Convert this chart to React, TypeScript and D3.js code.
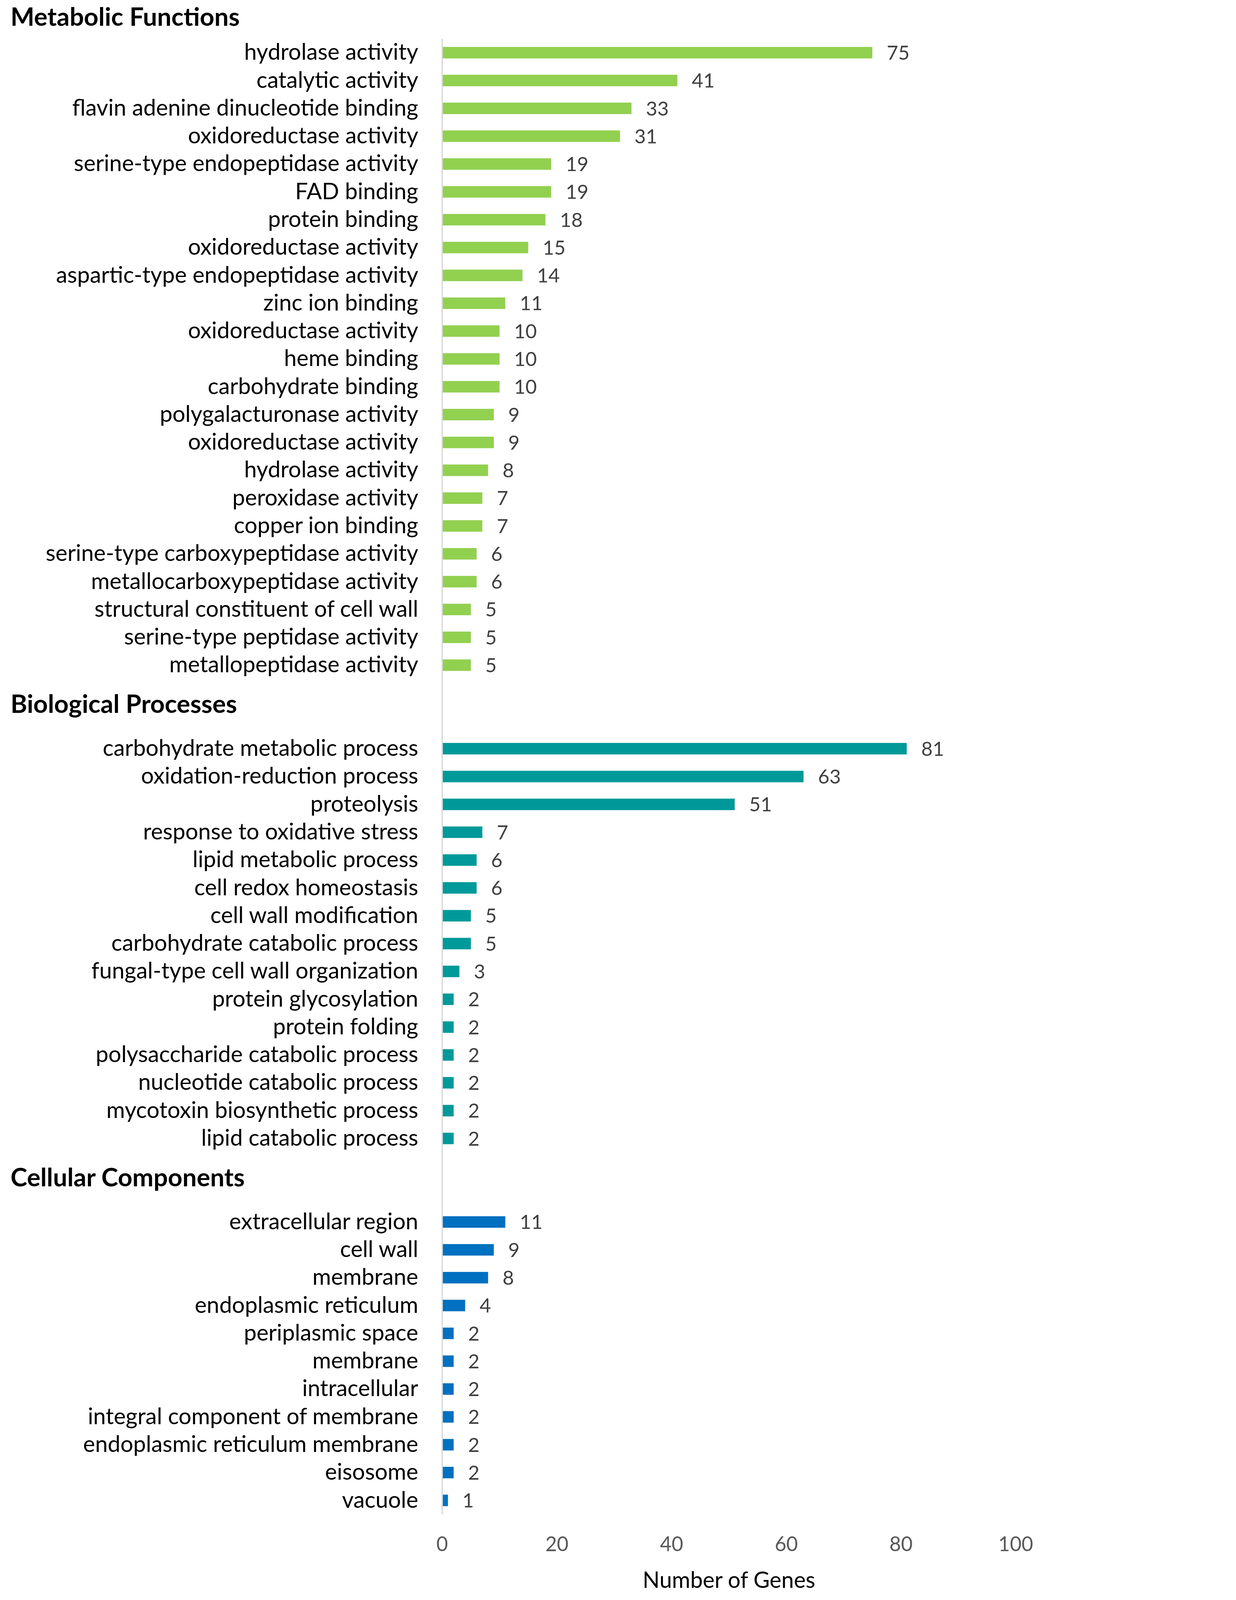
import * as d3 from 'd3';

const WIDTH = 3164;
const HEIGHT = 4874;

// x position of the zero line and of 100 on the gene-count axis
const X0 = 1347;
const X100 = 3094;
// vertical band range (covers all rows plus the two spacer rows between sections)
const BAND_TOP = 118;
const BAND_BOTTOM = 4613;
const BAR_PADDING = 0.587;

const FONT = 'Lato, "Open Sans", sans-serif';

const sectionTitles = ['Metabolic Functions', 'Biological Processes', 'Cellular Components'];
const sectionColors = ['#92D050', '#00999A', '#0070C0'];

const metabolicTerms = [
    'hydrolase activity', 'catalytic activity', 'flavin adenine dinucleotide binding',
    'oxidoreductase activity', 'serine-type endopeptidase activity', 'FAD binding',
    'protein binding', 'oxidoreductase activity', 'aspartic-type endopeptidase activity',
    'zinc ion binding', 'oxidoreductase activity', 'heme binding', 'carbohydrate binding',
    'polygalacturonase activity', 'oxidoreductase activity', 'hydrolase activity',
    'peroxidase activity', 'copper ion binding', 'serine-type carboxypeptidase activity',
    'metallocarboxypeptidase activity', 'structural constituent of cell wall',
    'serine-type peptidase activity', 'metallopeptidase activity',
];
const metabolicCounts = [75, 41, 33, 31, 19, 19, 18, 15, 14, 11, 10, 10, 10, 9, 9, 8, 7, 7, 6, 6, 5, 5, 5];

const biologicalTerms = [
    'carbohydrate metabolic process', 'oxidation-reduction process', 'proteolysis',
    'response to oxidative stress', 'lipid metabolic process', 'cell redox homeostasis',
    'cell wall modification', 'carbohydrate catabolic process', 'fungal-type cell wall organization',
    'protein glycosylation', 'protein folding', 'polysaccharide catabolic process',
    'nucleotide catabolic process', 'mycotoxin biosynthetic process', 'lipid catabolic process',
];
const biologicalCounts = [81, 63, 51, 7, 6, 6, 5, 5, 3, 2, 2, 2, 2, 2, 2];

const cellularTerms = [
    'extracellular region', 'cell wall', 'membrane', 'endoplasmic reticulum',
    'periplasmic space', 'membrane', 'intracellular', 'integral component of membrane',
    'endoplasmic reticulum membrane', 'eisosome', 'vacuole',
];
const cellularCounts = [11, 9, 8, 4, 2, 2, 2, 2, 2, 2, 1];

const xTicks = [0, 20, 40, 60, 80, 100];
const xAxisTitle = 'Number of Genes';

const sections = [
    { title: sectionTitles[0], terms: metabolicTerms, counts: metabolicCounts, color: sectionColors[0] },
    { title: sectionTitles[1], terms: biologicalTerms, counts: biologicalCounts, color: sectionColors[1] },
    { title: sectionTitles[2], terms: cellularTerms, counts: cellularCounts, color: sectionColors[2] },
];

export default function App() {
    // one band per row, with two empty bands between sections
    const keys: string[] = [];
    sections.forEach((s, si) => {
        if (si > 0) keys.push(`gap-${si}-a`, `gap-${si}-b`);
        s.terms.forEach((_, i) => keys.push(`${si}-${i}`));
    });

    const yScale = d3
        .scaleBand()
        .domain(keys)
        .range([BAND_TOP, BAND_BOTTOM])
        .paddingInner(BAR_PADDING)
        .paddingOuter(BAR_PADDING / 2);

    const xScale = d3.scaleLinear().domain([0, 100]).range([X0, X100]);

    const bw = yScale.bandwidth();

    return (
        // viewBox keeps the drawing fitted to the window whatever its css size is
        <svg
            viewBox={`0 0 ${WIDTH} ${HEIGHT}`}
            preserveAspectRatio="xMinYMin meet"
            style={{ position: 'fixed', left: 0, top: 0, width: '100vw', height: '100vh', background: '#fff' }}
            fontFamily={FONT}
        >
            <rect x={0} y={0} width={WIDTH} height={HEIGHT} fill="#fff" />

            {sections.map((s, si) => {
                const firstY = yScale(`${si}-0`)! + bw / 2;
                const titleY = si === 0 ? 78 : firstY - 109;
                return (
                    <g key={si}>
                        <text x={32} y={titleY} fontSize={77} fontWeight={700} fill="#000">
                            {s.title}
                        </text>
                        {s.terms.map((term, i) => {
                            const y = yScale(`${si}-${i}`)!;
                            const v = s.counts[i];
                            return (
                                <g key={i}>
                                    <rect
                                        x={xScale(0)}
                                        y={y}
                                        width={xScale(v) - xScale(0)}
                                        height={bw}
                                        fill={s.color}
                                    />
                                    <text
                                        x={X0 - 73}
                                        y={y + bw / 2}
                                        dy="0.32em"
                                        textAnchor="end"
                                        fontSize={69}
                                        fill="#000"
                                    >
                                        {term}
                                    </text>
                                    <text
                                        x={xScale(v) + 44}
                                        y={y + bw / 2}
                                        dy="0.36em"
                                        fontSize={60}
                                        fill="#404040"
                                    >
                                        {v}
                                    </text>
                                </g>
                            );
                        })}
                    </g>
                );
            })}

            {/* zero line */}
            <line x1={X0} x2={X0} y1={BAND_TOP} y2={BAND_BOTTOM} stroke="#D9D9D9" strokeWidth={4} />

            {xTicks.map((t) => (
                <text key={t} x={xScale(t)} y={BAND_BOTTOM + 112} textAnchor="middle" fontSize={61} fill="#595959">
                    {t}
                </text>
            ))}

            <text x={(X0 + X100) / 2} y={4837} textAnchor="middle" fontSize={68} fill="#000">
                {xAxisTitle}
            </text>
        </svg>
    );
}
